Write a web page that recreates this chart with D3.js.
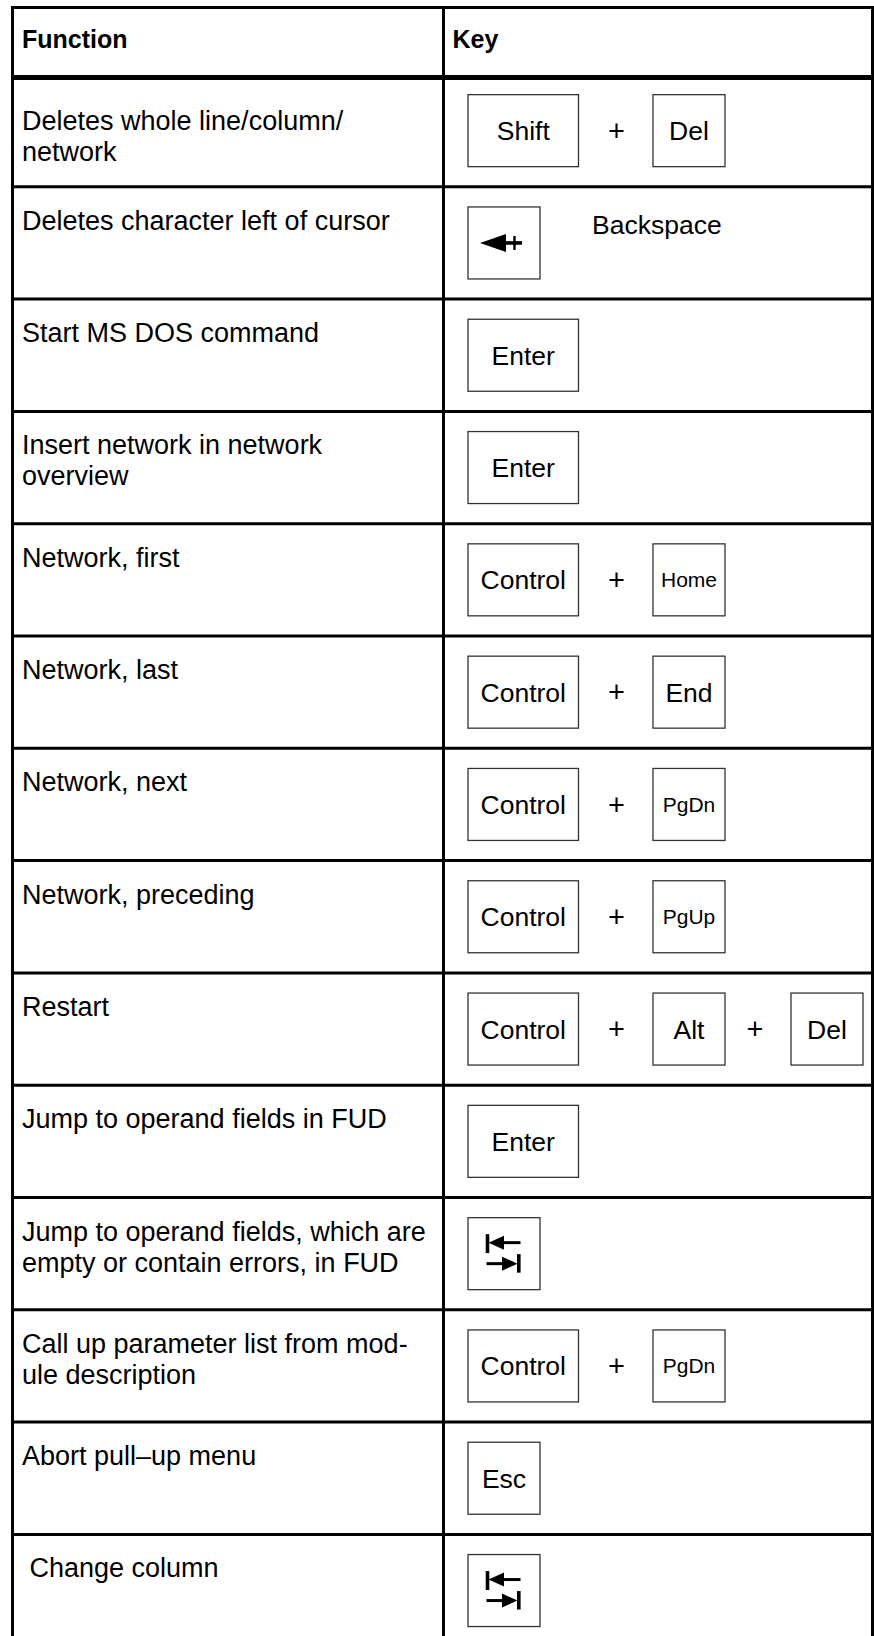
<!DOCTYPE html>
<html><head><meta charset="utf-8">
<script src="https://cdn.jsdelivr.net/npm/d3@7"></script>
<style>html,body{margin:0;padding:0;background:#fff;} svg{display:block;}</style>
</head><body>
<script>
// ---- data ----
const headers = ["Function", "Key"];
const functionLines = [
  ["Deletes whole line/column/", "network"],
  ["Deletes character left of cursor"],
  ["Start MS DOS command"],
  ["Insert network in network", "overview"],
  ["Network, first"],
  ["Network, last"],
  ["Network, next"],
  ["Network, preceding"],
  ["Restart"],
  ["Jump to operand fields in FUD"],
  ["Jump to operand fields, which are", "empty or contain errors, in FUD"],
  ["Call up parameter list from mod-", "ule description"],
  ["Abort pull\u2013up menu"],
  [" Change column"]
];
const keyCombos = [
  ["Shift", "Del"],
  ["BACKSPACE"],
  ["Enter"],
  ["Enter"],
  ["Control", "Home"],
  ["Control", "End"],
  ["Control", "PgDn"],
  ["Control", "PgUp"],
  ["Control", "Alt", "Del"],
  ["Enter"],
  ["TAB"],
  ["Control", "PgDn"],
  ["Esc"],
  ["TAB"]
];
const keyNotes = ["", "Backspace", "", "", "", "", "", "", "", "", "", "", "", ""];
const wideKeys = ["Shift", "Control", "Enter"];
const smallFontKeys = ["Home", "PgDn", "PgUp"];

// ---- layout ----
const W = 874, H = 1636;
const font = "'Liberation Sans', Arial, Helvetica, sans-serif";
const bodySize = 27, headSize = 25, keySize = 26.5, smallKeySize = 21;
const svg = d3.select("body").append("svg").attr("width", W).attr("height", H);

const rows = d3.range(functionLines.length);
const y = d3.scaleBand().domain(rows).range([74.5, 74.5 + rows.length * 112.3]).padding(0);
const colX = d3.scaleOrdinal().domain(["left", "divider", "right"]).range([12.5, 443.5, 872.5]);
const slotX = d3.scaleOrdinal().domain(["k0", "p0", "k1", "p1", "k2"]).range([468, 616.5, 653, 755, 791]);
const keyW = k => wideKeys.includes(k) ? 110.5 : 72;
const keyH = 72;
const headerTop = 7.5, headerBottom = 77.5;
const textTop = i => i === 0 ? y(i) + 12 : y(i);

// grid lines
const g = svg.append("g");
g.append("line").attr("x1", colX("left") - 1.5).attr("x2", W).attr("y1", headerTop).attr("y2", headerTop)
  .attr("stroke", "#000").attr("stroke-width", 3);
g.append("line").attr("x1", colX("left") - 1.5).attr("x2", W).attr("y1", headerBottom).attr("y2", headerBottom)
  .attr("stroke", "#000").attr("stroke-width", 5);
g.selectAll("line.row").data(rows.slice(1)).join("line").attr("class", "row")
  .attr("x1", colX("left") - 1.5).attr("x2", W)
  .attr("y1", d => y(d)).attr("y2", d => y(d))
  .attr("stroke", "#000").attr("stroke-width", 3);
g.selectAll("line.col").data(colX.domain()).join("line").attr("class", "col")
  .attr("x1", d => colX(d)).attr("x2", d => colX(d))
  .attr("y1", headerTop - 1.5).attr("y2", H + 20)
  .attr("stroke", "#000").attr("stroke-width", 3);

// header
svg.selectAll("text.head").data(headers).join("text").attr("class", "head")
  .attr("x", (d, i) => i === 0 ? colX("left") + 9.5 : colX("divider") + 9)
  .attr("y", 48)
  .attr("font-family", font).attr("font-weight", "bold").attr("font-size", headSize)
  .attr("fill", "#000").text(d => d);

// function texts
const fg = svg.selectAll("g.func").data(rows).join("g").attr("class", "func");
fg.selectAll("text").data(i => functionLines[i].map((t, j) => ({ t, j, i }))).join("text")
  .attr("x", colX("left") + 9.5)
  .attr("y", d => textTop(d.i) + 43 + d.j * 31)
  .attr("font-family", font).attr("font-size", bodySize).attr("fill", "#000")
  .style("white-space", "pre")
  .text(d => d.t);

// keys
rows.forEach(i => {
  const cy = y(i) + y.bandwidth() / 2;
  const items = [];
  keyCombos[i].forEach((k, j) => {
    if (j > 0) items.push({ type: "plus", slot: "p" + (j - 1) });
    items.push({ type: "key", k, slot: "k" + j });
  });
  const kg = svg.append("g");
  items.forEach(it => {
    if (it.type === "plus") {
      kg.append("text").attr("x", slotX(it.slot)).attr("y", cy + 0.35 * 29)
        .attr("text-anchor", "middle").attr("font-family", font).attr("font-size", 29)
        .attr("fill", "#000").text("+");
      return;
    }
    const x0 = slotX(it.slot), w = keyW(it.k), y0 = cy - keyH / 2;
    kg.append("rect").attr("x", x0).attr("y", y0).attr("width", w).attr("height", keyH)
      .attr("fill", "#fff").attr("stroke", "#333").attr("stroke-width", 1.3);
    if (it.k === "BACKSPACE") {
      const ay = cy;
      kg.append("path")
        .attr("d", `M${x0 + 12},${ay} L${x0 + 38},${ay - 9} L${x0 + 38},${ay + 9} Z`)
        .attr("fill", "#000");
      kg.append("line").attr("x1", x0 + 37).attr("x2", x0 + 54).attr("y1", ay).attr("y2", ay)
        .attr("stroke", "#000").attr("stroke-width", 3.6);
      kg.append("line").attr("x1", x0 + 46.5).attr("x2", x0 + 46.5).attr("y1", ay - 7).attr("y2", ay + 7)
        .attr("stroke", "#000").attr("stroke-width", 2.4);
    } else if (it.k === "TAB") {
      // top: bar + left arrow
      kg.append("line").attr("x1", x0 + 19.5).attr("x2", x0 + 19.5).attr("y1", y0 + 16.5).attr("y2", y0 + 35.5)
        .attr("stroke", "#000").attr("stroke-width", 3.6);
      kg.append("path")
        .attr("d", `M${x0 + 20.5},${y0 + 25} L${x0 + 36},${y0 + 18} L${x0 + 36},${y0 + 32} Z`)
        .attr("fill", "#000");
      kg.append("line").attr("x1", x0 + 35).attr("x2", x0 + 52.5).attr("y1", y0 + 25).attr("y2", y0 + 25)
        .attr("stroke", "#000").attr("stroke-width", 3);
      // bottom: right arrow + bar
      kg.append("line").attr("x1", x0 + 18.5).attr("x2", x0 + 36).attr("y1", y0 + 46).attr("y2", y0 + 46)
        .attr("stroke", "#000").attr("stroke-width", 3);
      kg.append("path")
        .attr("d", `M${x0 + 49.5},${y0 + 46} L${x0 + 34},${y0 + 39} L${x0 + 34},${y0 + 53} Z`)
        .attr("fill", "#000");
      kg.append("line").attr("x1", x0 + 50.8).attr("x2", x0 + 50.8).attr("y1", y0 + 36.5).attr("y2", y0 + 55)
        .attr("stroke", "#000").attr("stroke-width", 3.6);
    } else {
      const fs = smallFontKeys.includes(it.k) ? smallKeySize : keySize;
      kg.append("text").attr("x", x0 + w / 2).attr("y", cy + 0.358 * fs)
        .attr("text-anchor", "middle").attr("font-family", font).attr("font-size", fs)
        .attr("fill", "#000").text(it.k);
    }
  });
  if (keyNotes[i]) {
    kg.append("text").attr("x", 592).attr("y", cy - 18 + 0.358 * keySize)
      .attr("font-family", font).attr("font-size", keySize).attr("fill", "#000").text(keyNotes[i]);
  }
});
</script>
</body></html>
